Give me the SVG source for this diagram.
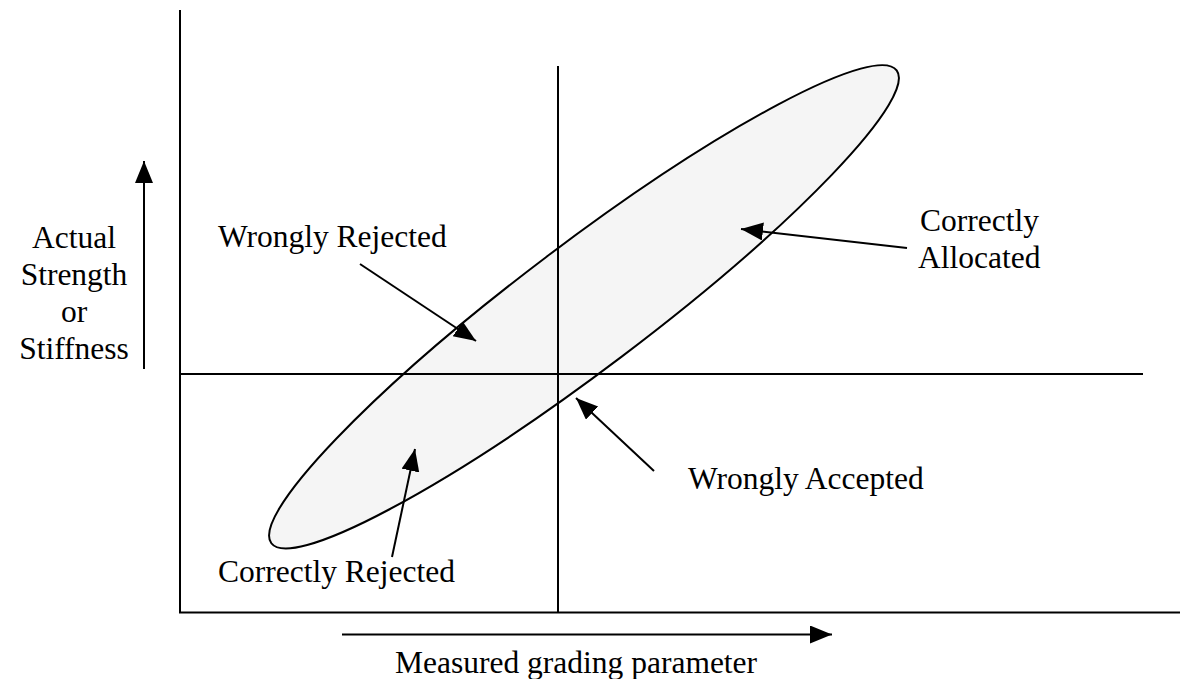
<svg xmlns="http://www.w3.org/2000/svg" width="1192" height="679" viewBox="0 0 1192 679">
<style>
.ln{stroke:#000;stroke-width:2;fill:none}
.ar{stroke:#000;stroke-width:2;fill:none;marker-end:url(#ah)}
.t{font-family:"Liberation Serif","Times New Roman",serif;font-size:31.5px;fill:#000}
</style>
<defs>
<marker id="ah" markerUnits="userSpaceOnUse" markerWidth="24" markerHeight="20" refX="22" refY="9" orient="auto">
<path d="M0,0 L22,9 L0,18 z" fill="#000"/>
</marker>
</defs>
<rect width="1192" height="679" fill="#fff"/>
<g id="ellipse">
<ellipse cx="584" cy="306.8" rx="392" ry="62.5" transform="rotate(-37.1 584 306.8)" fill="#f5f5f5" stroke="#000" stroke-width="2"/>
</g>
<g id="axes">
<line class="ln" x1="180" y1="10" x2="180" y2="613"/>
<line class="ln" x1="179" y1="612.5" x2="1180" y2="612.5"/>
<line class="ln" x1="558" y1="66" x2="558" y2="612"/>
<line class="ln" x1="180" y1="374" x2="1143" y2="374"/>
</g>
<g id="connectors">
<line class="ar" x1="144" y1="369" x2="144" y2="161"/>
<line class="ar" x1="342" y1="634.5" x2="832" y2="634.5"/>
<line class="ar" x1="360" y1="264" x2="476" y2="341"/>
<line class="ar" x1="907" y1="248" x2="741" y2="229"/>
<line class="ar" x1="654" y1="471" x2="576" y2="398"/>
<line class="ar" x1="392" y1="557" x2="415" y2="449"/>
</g>
<g id="label-y">
<text class="t" text-anchor="middle" x="74" y="248">Actual</text>
<text class="t" text-anchor="middle" x="74" y="285">Strength</text>
<text class="t" text-anchor="middle" x="74" y="322">or</text>
<text class="t" text-anchor="middle" x="74" y="359">Stiffness</text>
</g>
<g id="label-x"><text class="t" x="395" y="673">Measured grading parameter</text></g>
<g id="wrongly-rejected"><text class="t" x="218" y="247">Wrongly Rejected</text></g>
<g id="correctly-allocated">
<text class="t" x="920" y="231">Correctly</text>
<text class="t" x="918" y="268">Allocated</text>
</g>
<g id="wrongly-accepted"><text class="t" x="688" y="489">Wrongly Accepted</text></g>
<g id="correctly-rejected"><text class="t" x="218" y="582">Correctly Rejected</text></g>
</svg>
